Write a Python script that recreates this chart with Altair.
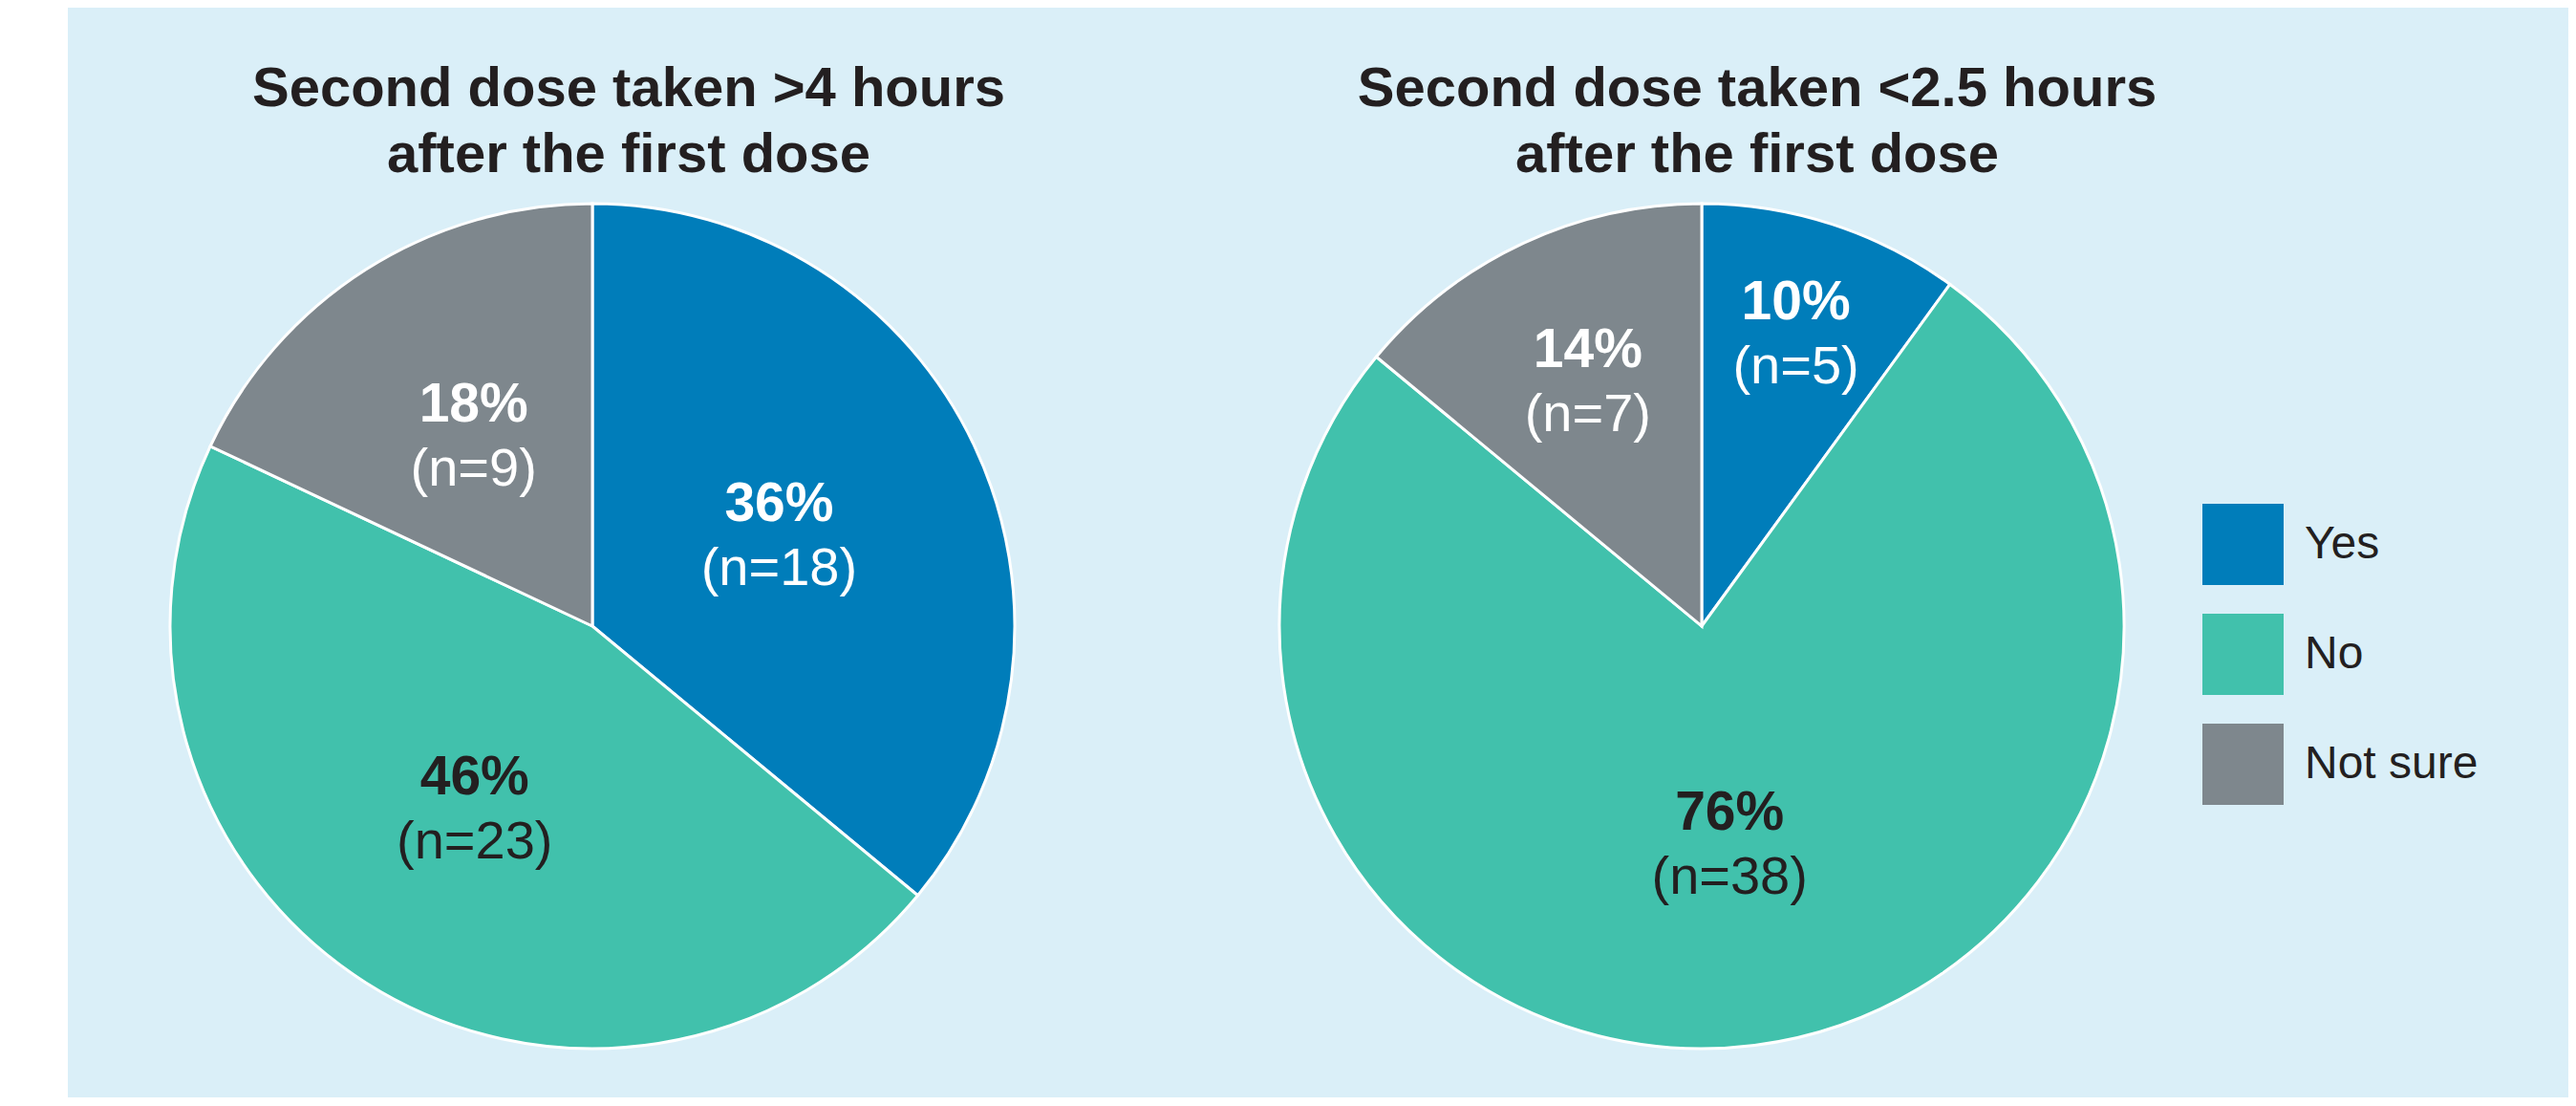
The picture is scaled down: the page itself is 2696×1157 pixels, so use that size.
import altair as alt
import pandas as pd

# ---- data ----
answers = ["Yes", "No", "Not sure"]
pie1_counts = [18, 23, 9]
pie2_counts = [5, 38, 7]
pie1_title = "Second dose taken >4 hours\nafter the first dose"
pie2_title = "Second dose taken <2.5 hours\nafter the first dose"
colors = ["#007DBA", "#41C1AC", "#7E878D"]

# ---- layout (not data) ----
W, H = 2617, 1140
R = 442
CY = 647
PIE_X = {"p1": 549, "p2": 1710}
TITLE_X = {"p1": 587, "p2": 1768}
LABEL_R = {"p1": [216, 230, 232], "p2": [319, 233, 280]}
FONT = "Liberation Sans"
DARK = "#231F20"


def frame(pid, counts):
    total = sum(counts)
    return pd.DataFrame({
        "answer": answers,
        "n": counts,
        "ord": list(range(len(answers))),
        "pct": [f"{round(c / total * 100)}%" for c in counts],
        "nlab": [f"(n={c})" for c in counts],
        "r": LABEL_R[pid],
    })


legend = alt.Legend(
    orient="none", legendX=2234, legendY=519, title=None,
    symbolType="square", symbolSize=7225, symbolStrokeWidth=0, symbolOpacity=1,
    labelFontSize=48, labelFont=FONT, labelColor=DARK, labelLimit=400,
    labelOffset=22, rowPadding=30, padding=0,
)

unit = alt.Scale(domain=[0, 1], range=[0, 6.283185307179586])


def pie(pid, counts, title):
    df = frame(pid, counts)
    base = (
        alt.Chart(df)
        .transform_joinaggregate(total="sum(n)")
        .transform_window(cum="sum(n)", sort=[alt.SortField("ord")], frame=[None, 0])
        .transform_calculate(
            f0="(datum.cum - datum.n) / datum.total",
            f1="datum.cum / datum.total",
            fm="(datum.cum - datum.n / 2) / datum.total",
        )
    )
    cx = PIE_X[pid]
    arcs = base.mark_arc(outerRadius=R, stroke="white", strokeWidth=3).encode(
        x=alt.value(cx), y=alt.value(CY),
        theta=alt.Theta("f0:Q", scale=unit),
        theta2="f1:Q",
        color=alt.Color("answer:N", scale=alt.Scale(domain=answers, range=colors), legend=legend),
    )
    txtcol = alt.condition("datum.answer == 'No'", alt.value(DARK), alt.value("white"))
    pct = base.mark_text(font=FONT, fontSize=57, fontWeight="bold", baseline="alphabetic",
                         align="center", dy=-18).encode(
        x=alt.value(cx), y=alt.value(CY),
        theta=alt.Theta("fm:Q", scale=unit),
        radius=alt.Radius("r:Q", scale=None),
        text="pct:N",
        color=txtcol,
    )
    nl = base.mark_text(font=FONT, fontSize=56, baseline="alphabetic",
                        align="center", dy=49).encode(
        x=alt.value(cx), y=alt.value(CY),
        theta=alt.Theta("fm:Q", scale=unit),
        radius=alt.Radius("r:Q", scale=None),
        text="nlab:N",
        color=txtcol,
    )
    ttl = alt.Chart(pd.DataFrame({"t": [title]})).mark_text(
        font=FONT, fontSize=58, fontWeight="bold", color=DARK, align="center",
        baseline="alphabetic", lineBreak="\n", lineHeight=69,
    ).encode(x=alt.value(TITLE_X[pid]), y=alt.value(103), text="t:N")
    return [arcs, pct, nl, ttl]


layers = pie("p1", pie1_counts, pie1_title) + pie("p2", pie2_counts, pie2_title)

chart = alt.layer(*layers).properties(
    width=W, height=H,
    autosize=alt.AutoSizeParams(type="none"),
    padding={"left": 63, "top": 0, "right": 0, "bottom": 0},
    background="white",
).configure_view(fill="#DAEFF8", stroke=None)

chart.save("out.html", embed_options={"renderer": "svg", "actions": False})
